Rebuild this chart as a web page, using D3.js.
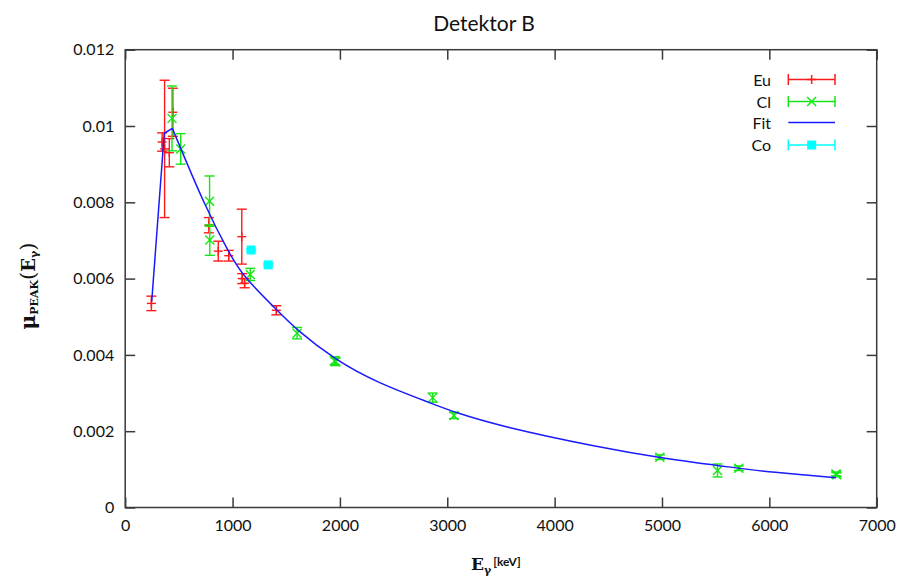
<!DOCTYPE html>
<html>
<head>
<meta charset="utf-8">
<script src="https://cdn.jsdelivr.net/npm/d3@7"></script>
<style>
  html, body { margin: 0; padding: 0; background: #fff; }
  svg { display: block; }
</style>
</head>
<body>
<svg id="chart" width="901" height="577"></svg>
<script>
// ---------- data ----------
const euE   = [244, 344, 367, 411, 444, 779, 867, 964, 1086, 1090, 1112, 1408];
const euMu  = [0.00535, 0.00958, 0.0094, 0.0093, 0.01036, 0.0074, 0.00672, 0.0066, 0.0071, 0.0060, 0.00588, 0.00517];
const euErr = [0.00019, 0.00024, 0.0018, 0.00037, 0.00063, 0.0002, 0.00026, 0.00014, 0.00072, 0.00013, 0.00012, 0.00012];

const clE   = [436, 517, 786, 788, 1165, 1601, 1951, 1959, 2864, 3062, 4980, 5517, 5715, 6620, 6628];
const clMu  = [0.0102, 0.0094, 0.00803, 0.00701, 0.00611, 0.00457, 0.00385, 0.00382, 0.00288, 0.00241, 0.00132, 0.00097, 0.00103, 0.00088, 0.00086];
const clErr = [0.00085, 0.0004, 0.00066, 0.0004, 0.00016, 0.00015, 0.0001, 0.0001, 0.00012, 0.00008, 0.00006, 0.00017, 0.00006, 0.00005, 0.00005];

const coE   = [1173, 1332];
const coMu  = [0.00675, 0.00636];
const coErr = [0.00003, 0.00003];

// fit curve: rising part (straight segments) and decaying part (smooth)
const fitRiseE  = [247, 364, 439];
const fitRiseMu = [0.0054, 0.00981, 0.00994];
const fitDecayE  = [439, 744, 977, 1101, 1412, 1598, 1955, 2344, 2862, 3062, 3493, 4425, 4984, 5714, 6000, 6622];
const fitDecayMu = [0.00994, 0.00788, 0.00662, 0.00605, 0.00518, 0.00465, 0.00387, 0.00327, 0.00272, 0.0025, 0.00213, 0.00157, 0.0013, 0.00103, 0.00093, 0.00078];

const xTicks = [0, 1000, 2000, 3000, 4000, 5000, 6000, 7000];
const yTicks = [0, 0.002, 0.004, 0.006, 0.008, 0.01, 0.012];
const yTickLabels = ["0", "0.002", "0.004", "0.006", "0.008", "0.01", "0.012"];

const seriesNames = ["Eu", "Cl", "Fit", "Co"];
const colors = { Eu: "#ff1a1a", Cl: "#14e614", Fit: "#1a1aff", Co: "#00ffff" };

// ---------- layout ----------
const svg = d3.select("#chart");
const pLeft = 125.2, pRight = 876.7, pTop = 49.7, pBottom = 507.5;
const x = d3.scaleLinear().domain([0, 7000]).range([pLeft, pRight]);
const y = d3.scaleLinear().domain([0, 0.012]).range([pBottom, pTop]);
const axisColor = "#3a3a3a";
const labelFont = "Lato, 'Open Sans', sans-serif";

// axes
const gx = svg.append("g").attr("transform", `translate(0,${pBottom})`)
  .call(d3.axisBottom(x).tickValues(xTicks).tickSize(-10).tickPadding(12).tickFormat(d3.format("d")));
const gxt = svg.append("g").attr("transform", `translate(0,${pTop})`)
  .call(d3.axisTop(x).tickValues(xTicks).tickSize(-10).tickFormat(""));
const gy = svg.append("g").attr("transform", `translate(${pLeft},0)`)
  .call(d3.axisLeft(y).tickValues(yTicks).tickSize(-10).tickPadding(11).tickFormat((d, i) => yTickLabels[i]));
const gyr = svg.append("g").attr("transform", `translate(${pRight},0)`)
  .call(d3.axisRight(y).tickValues(yTicks).tickSize(-10).tickFormat(""));

[gx, gxt, gy, gyr].forEach(g => {
  g.select(".domain").remove();
  g.selectAll(".tick line").attr("stroke", axisColor).attr("stroke-width", 1.5);
  g.selectAll(".tick text").attr("fill", "#111").style("font-family", labelFont).style("font-size", "16px");
});
svg.append("rect").attr("x", pLeft).attr("y", pTop).attr("width", pRight - pLeft).attr("height", pBottom - pTop)
  .attr("fill", "none").attr("stroke", axisColor).attr("stroke-width", 1.5);

// ---------- error bar helper ----------
const capW = 5;
function errorBars(E, mu, err, color, marker) {
  const g = svg.append("g").attr("stroke", color).attr("stroke-width", 1.4).attr("fill", "none");
  E.forEach((e, i) => {
    const cx = x(e), yT = y(mu[i] + err[i]), yB = y(mu[i] - err[i]), cy = y(mu[i]);
    g.append("line").attr("x1", cx).attr("x2", cx).attr("y1", yT).attr("y2", yB);
    g.append("line").attr("x1", cx - capW).attr("x2", cx + capW).attr("y1", yT).attr("y2", yT);
    g.append("line").attr("x1", cx - capW).attr("x2", cx + capW).attr("y1", yB).attr("y2", yB);
    marker(g, cx, cy);
  });
}
const plusMarker = (g, cx, cy) => {
  g.append("line").attr("x1", cx - 4.5).attr("x2", cx + 4.5).attr("y1", cy).attr("y2", cy);
  g.append("line").attr("x1", cx).attr("x2", cx).attr("y1", cy - 4.5).attr("y2", cy + 4.5);
};
const crossMarker = (g, cx, cy) => {
  const s = 4.5;
  g.append("line").attr("x1", cx - s).attr("x2", cx + s).attr("y1", cy - s).attr("y2", cy + s);
  g.append("line").attr("x1", cx - s).attr("x2", cx + s).attr("y1", cy + s).attr("y2", cy - s);
};
const squareMarker = (color) => (g, cx, cy) => {
  g.append("rect").attr("x", cx - 4.5).attr("y", cy - 4.5).attr("width", 9).attr("height", 9)
    .attr("fill", color).attr("stroke", "none");
};

errorBars(euE, euMu, euErr, colors.Eu, plusMarker);
errorBars(clE, clMu, clErr, colors.Cl, crossMarker);

// fit line
const riseLine = d3.line().x(d => x(d[0])).y(d => y(d[1])).curve(d3.curveLinear);
const decayLine = d3.line().x(d => x(d[0])).y(d => y(d[1])).curve(d3.curveBasis);
const fitG = svg.append("g").attr("fill", "none").attr("stroke", colors.Fit).attr("stroke-width", 1.5)
  .attr("stroke-linejoin", "round");
fitG.append("path").datum(fitRiseE.map((e, i) => [e, fitRiseMu[i]])).attr("d", riseLine);
fitG.append("path").datum(fitDecayE.map((e, i) => [e, fitDecayMu[i]])).attr("d", decayLine);

errorBars(coE, coMu, coErr, colors.Co, squareMarker(colors.Co));

// ---------- legend ----------
const legRows = [79.5, 101.5, 122.5, 145];
const lx1 = 788.3, lx2 = 835;
seriesNames.forEach((name, i) => {
  const cy = legRows[i];
  const c = colors[name];
  svg.append("text").attr("x", 771).attr("y", cy + 6).attr("text-anchor", "end")
    .style("font-family", labelFont).style("font-size", "16px").attr("fill", "#111").text(name);
  const g = svg.append("g").attr("stroke", c).attr("stroke-width", 1.5).attr("fill", "none");
  g.append("line").attr("x1", lx1).attr("x2", lx2).attr("y1", cy).attr("y2", cy);
  if (name !== "Fit") {
    g.append("line").attr("x1", lx1).attr("x2", lx1).attr("y1", cy - 5.5).attr("y2", cy + 5.5);
    g.append("line").attr("x1", lx2).attr("x2", lx2).attr("y1", cy - 5.5).attr("y2", cy + 5.5);
    const mx = (lx1 + lx2) / 2;
    if (name === "Eu") plusMarker(g, mx, cy);
    if (name === "Cl") crossMarker(g, mx, cy);
    if (name === "Co") squareMarker(c)(g, mx, cy);
  }
});

// ---------- title & axis labels ----------
svg.append("text").attr("x", 484).attr("y", 31).attr("text-anchor", "middle")
  .style("font-family", labelFont).style("font-size", "21px").attr("fill", "#111").text("Detektor B");

const serif = "'DejaVu Serif', 'Liberation Serif', serif";
const yl = svg.append("text").attr("transform", "translate(35,286) rotate(-90)")
  .attr("text-anchor", "middle").style("font-family", serif).attr("fill", "#111").style("font-weight", "bold");
yl.append("tspan").style("font-size", "20px").text("μ");
yl.append("tspan").style("font-size", "11px").attr("dy", 3).text("PEAK");
yl.append("tspan").style("font-size", "21px").style("font-weight", "normal").attr("dy", -3).text("(");
yl.append("tspan").style("font-size", "18px").text("E");
yl.append("tspan").style("font-size", "11px").attr("dy", 3).text("γ");
yl.append("tspan").style("font-size", "21px").style("font-weight", "normal").attr("dy", -3).text(")");

const xl = svg.append("text").attr("x", 471).attr("y", 570).attr("fill", "#111").style("font-weight", "bold");
xl.append("tspan").style("font-family", serif).style("font-size", "17px").text("E");
xl.append("tspan").style("font-family", serif).style("font-size", "11px").attr("dy", 4).text("γ");
xl.append("tspan").style("font-family", labelFont).style("font-size", "12px").attr("dy", -8).attr("dx", 2).text("[keV]");
</script>
</body>
</html>
